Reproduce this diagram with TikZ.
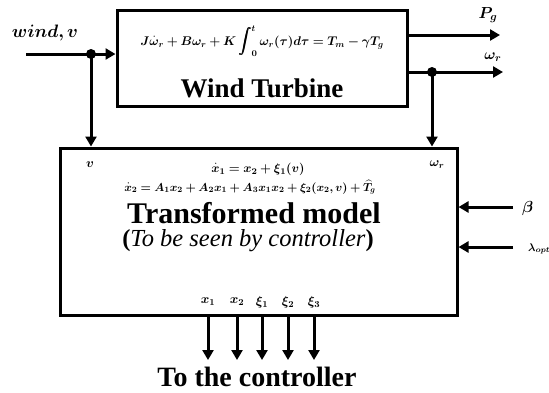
\documentclass[tikz,border=0pt]{standalone}
\usepackage{fix-cm}
\usepackage{amsmath,amssymb,bm}
\usepackage{fontspec}
\setmainfont{Liberation Serif}
\usepackage{tikz}
\usetikzlibrary{arrows.meta}
\usetikzlibrary{calc,positioning}

\tikzset{
  bloc/.style={draw,line width=3pt,inner sep=0pt},
  fleche/.style={line width=3pt,-{Triangle[length=10pt,width=11pt]}},
  trait/.style={line width=3pt},
  gros/.style={inner sep=0pt,font=\bfseries\fontsize{27}{30}\selectfont},
  eq/.style={inner sep=0pt,font=\fontsize{13}{15}\selectfont},
}

\begin{document}
\begin{tikzpicture}[x=1pt,y=-1pt]
          \useasboundingbox (0,0) rectangle (549,392);

          % Bloc turbine
          \node[bloc,minimum width=290pt,minimum height=96pt] (wt) at (262,58) {};
          \node[eq,font=\fontsize{12.6}{14}\selectfont] (wteq) at (262,41)
            {$\boldsymbol{J\dot{\omega}_r+B\omega_r+K\displaystyle\int_0^t\omega_r(\tau)d\tau=T_m-\gamma T_g}$};
          \node[gros] (wtname) at (262,88) {Wind Turbine};

          % Bloc modele
          \node[bloc,minimum width=397pt,minimum height=167pt] (tm) at (258.5,231.5) {};
          \node[eq] (tmv) at (90,165) {$\boldsymbol{v}$};
          \node[eq] (tmw) at (437,165) {$\boldsymbol{\omega_r}$};
          \node[eq,font=\fontsize{12.5}{14}\selectfont] (tmeqa) at (258,169) {$\boldsymbol{\dot{x}_1=x_2+\xi_1(v)}$};
          \node[eq,font=\fontsize{11.6}{14}\selectfont] (tmeqb) at (250,187)
            {$\boldsymbol{\dot{x}_2=A_1x_2+A_2x_1+A_3x_1x_2+\xi_2(x_2,v)+\widehat{T}_g}$};
          \node[gros,font=\bfseries\fontsize{30}{32}\selectfont] (tmname) at (254,213) {Transformed model};
          \node[eq,font=\fontsize{24.5}{28}\selectfont] (tmsub) at (248,241)
            {\textbf{(}\textit{To be seen by controller}\textbf{)}};

          % Entree vent
          \node[eq,font=\fontsize{18}{20}\selectfont] (wind) at (45,33) {$\boldsymbol{wind,v}$};
          \coordinate (windin) at (26,54);
          \coordinate (wsplit) at (91,54);
          \draw[trait] (windin) -- (wsplit);
          \draw[fleche] (wsplit) -- (wsplit -| wt.west);
          \draw[fleche] (wsplit) -- (wsplit |- tm.north);
          \fill (wsplit) circle (5pt);

          % Sorties
          \coordinate (pg) at (500,35);
          \draw[fleche] (pg -| wt.east) -- (pg);
          \node[eq,font=\fontsize{16}{18}\selectfont] (pglab) at (488,15) {$\boldsymbol{P_g}$};
          \coordinate (om) at (503,72);
          \coordinate (osplit) at (432,72);
          \draw[fleche] (om -| wt.east) -- (om);
          \draw[fleche] (osplit) -- (osplit |- tm.north);
          \fill (osplit) circle (5pt);
          \node[eq,font=\fontsize{15}{17}\selectfont] (omlab) at (493,57) {$\boldsymbol{\omega_r}$};

          % Entrees beta et lambda
          \coordinate (beta) at (513,207);
          \draw[fleche] (beta) -- (beta -| tm.east);
          \node[eq,font=\fontsize{16}{18}\selectfont,anchor=west] (betalab) at (522,208) {$\boldsymbol{\beta}$};
          \coordinate (lopt) at (513,247);
          \draw[fleche] (lopt) -- (lopt -| tm.east);
          \node[eq,font=\fontsize{11}{13}\selectfont,anchor=west] (loptlab) at (528,249) {$\boldsymbol{\lambda_{opt}}$};

          % Sorties vers le controleur
          \foreach \x/\lab [count=\i] in {208/x_1,237/x_2,262/\xi_1,288/\xi_2,314/\xi_3} {
            \coordinate (out\i) at (\x,360);
            \draw[fleche] (out\i |- tm.south) -- (out\i);
            \node[eq] (lab\i) at (\x,302) {$\boldsymbol{\lab}$};
          }
          \node[gros,font=\bfseries\fontsize{28}{30}\selectfont] (ctrl) at (257,377) {To the controller};

        \end{tikzpicture}
\end{document}
